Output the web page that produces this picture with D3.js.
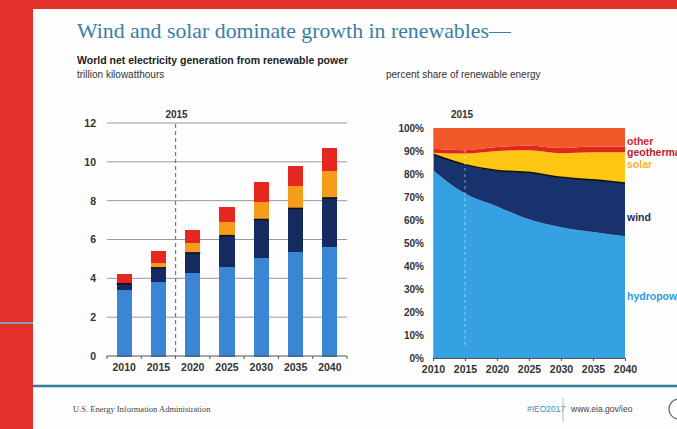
<!DOCTYPE html>
<html>
<head>
<meta charset="utf-8">
<script src="https://cdn.jsdelivr.net/npm/d3@7"></script>
<style>
	body { margin: 0; background: #e3302a; }
	svg { display: block; }
	.tick text { font-family: "Liberation Sans", Arial, sans-serif; }
</style>
</head>
<body>
<svg width="677" height="429"></svg>
<script>
// trillion kilowatthours
const years = [2010, 2015, 2020, 2025, 2030, 2035, 2040];
const hydro = [3.43, 3.86, 4.29, 4.63, 5.09, 5.37, 5.66];
const wind = [0.29, 0.68, 1.02, 1.57, 1.94, 2.23, 2.48];
const solar = [0.03, 0.26, 0.55, 0.74, 0.94, 1.18, 1.43];
const geothermal = [0.07, 0.08, 0.11, 0.15, 0.20, 0.24, 0.27];
const other = [0.38, 0.52, 0.54, 0.59, 0.78, 0.79, 0.86];

const leftTicks = [0, 2, 4, 6, 8, 10, 12];
const rightTicks = [0, 0.1, 0.2, 0.3, 0.4, 0.5, 0.6, 0.7, 0.8, 0.9, 1];
const keys = ["hydro", "wind", "solar", "geothermal", "other"];
const labels = ["hydropower", "wind", "solar", "geothermal", "other"];

const barColors = {hydro: "#3a86d4", wind: "#152a5e", solar: "#f59c1d", geothermal: "#e5281f", other: "#e5281f"};
const areaColors = {hydro: "#35a0e2", wind: "#17326c", solar: "#fcc613", geothermal: "#e2261c", other: "#f1592a"};
const labelColors = {hydro: "#2c9ddf", wind: "#1c2c58", solar: "#f2b51c", geothermal: "#b7232b", other: "#d3262d"};

const rows = years.map((y, i) => ({
	year: y, hydro: hydro[i], wind: wind[i], solar: solar[i],
	geothermal: geothermal[i], other: other[i]
}));

const svg = d3.select("svg");
const sans = '"Liberation Sans", Arial, sans-serif';

// slide background
svg.append("rect").attr("x", 33).attr("y", 9).attr("width", 644).attr("height", 420).attr("fill", "#fdfdfd");
svg.append("line").attr("x1", 0).attr("x2", 33).attr("y1", 323).attr("y2", 323)
	.attr("stroke", "#8b9dbf").attr("stroke-width", 2);

svg.append("text").attr("x", 77).attr("y", 38)
	.attr("font-family", '"Liberation Serif", "Times New Roman", serif').attr("font-size", 21.8)
	.attr("fill", "#3a7fa8").text("Wind and solar dominate growth in renewables\u2014");
svg.append("text").attr("x", 77).attr("y", 64).attr("font-family", sans).attr("font-size", 10.5)
	.attr("font-weight", "bold").attr("fill", "#222").text("World net electricity generation from renewable power");
svg.append("text").attr("x", 77).attr("y", 78).attr("font-family", sans).attr("font-size", 10)
	.attr("fill", "#333").text("trillion kilowatthours");
svg.append("text").attr("x", 386).attr("y", 78).attr("font-family", sans).attr("font-size", 10)
	.attr("fill", "#333").text("percent share of renewable energy");

// ---- left: stacked bars
const x = d3.scaleBand().domain(years).range([107, 347]).paddingInner(0.56).paddingOuter(0.28);
const y = d3.scaleLinear().domain([0, 12]).range([356, 123]);
const stack = d3.stack().keys(keys)(rows);

const left = svg.append("g");
left.selectAll("line.grid").data(leftTicks.filter(t => t > 0)).join("line")
	.attr("x1", 107).attr("x2", 347).attr("y1", d => y(d)).attr("y2", d => y(d))
	.attr("stroke", "#9a9a9a").attr("stroke-width", 1);

left.append("g").attr("transform", "translate(100,0)")
	.call(d3.axisLeft(y).tickValues(leftTicks).tickSize(0).tickPadding(4))
	.call(g => g.select(".domain").remove())
	.call(g => g.selectAll("text").attr("font-size", 10.5).attr("font-weight", "bold").attr("fill", "#333"));

left.selectAll("g.layer").data(stack).join("g").attr("class", "layer")
	.attr("fill", d => barColors[d.key])
	.attr("shape-rendering", "crispEdges")
	.selectAll("rect").data(d => d).join("rect")
	.attr("x", d => x(d.data.year)).attr("width", x.bandwidth())
	.attr("y", d => y(d[1])).attr("height", d => y(d[0]) - y(d[1]) + 0.5);

// thin dark edge above wind
left.selectAll("line.edge").data(stack[1]).join("line")
	.attr("x1", d => x(d.data.year)).attr("x2", d => x(d.data.year) + x.bandwidth())
	.attr("y1", d => y(d[1])).attr("y2", d => y(d[1]))
	.attr("stroke", "#111").attr("stroke-width", 1.5);

const step = x.step();
const bounds = years.map(v => x(v) - (step - x.bandwidth()) / 2).concat([347]);
left.append("line").attr("x1", 107).attr("x2", 347).attr("y1", y(0)).attr("y2", y(0))
	.attr("stroke", "#555").attr("stroke-width", 1.2);
left.selectAll("line.tk").data(bounds).join("line")
	.attr("x1", d => d).attr("x2", d => d).attr("y1", y(0)).attr("y2", y(0) + 3)
	.attr("stroke", "#555");

left.append("g").attr("transform", `translate(0,${y(0)})`)
	.call(d3.axisBottom(x).tickSize(0).tickPadding(8))
	.call(g => g.select(".domain").remove())
	.call(g => g.selectAll("text").attr("font-size", 10.5).attr("font-weight", "bold").attr("fill", "#333"));

const split = x(2020) - (step - x.bandwidth()) / 2;
left.append("line").attr("x1", split).attr("x2", split).attr("y1", 124).attr("y2", y(0))
	.attr("stroke", "#777").attr("stroke-width", 1.2).attr("stroke-dasharray", "4,3");
left.append("text").attr("x", split + 1).attr("y", 118).attr("text-anchor", "middle")
	.attr("font-family", sans).attr("font-size", 10).attr("font-weight", "bold").attr("fill", "#333").text("2015");

// ---- right: percent share areas
const x2 = d3.scaleLinear().domain([2010, 2040]).range([433, 625]);
const y2 = d3.scaleLinear().domain([0, 1]).range([358, 128]);
const shares = d3.stack().keys(keys).offset(d3.stackOffsetExpand)(rows);
const area = d3.area().curve(d3.curveMonotoneX)
	.x(d => x2(d.data.year)).y0(d => y2(d[0])).y1(d => y2(d[1]));

const right = svg.append("g");
right.selectAll("path.area").data(shares).join("path")
	.attr("fill", d => areaColors[d.key]).attr("d", area);
right.append("path").datum(shares[1])
	.attr("fill", "none").attr("stroke", "#111").attr("stroke-width", 1.5)
	.attr("d", d3.line().curve(d3.curveMonotoneX).x(d => x2(d.data.year)).y(d => y2(d[1])));

right.append("line").attr("x1", x2(2015)).attr("x2", x2(2015)).attr("y1", 150).attr("y2", 345)
	.attr("stroke", "#fff").attr("stroke-opacity", 0.5).attr("stroke-dasharray", "3,3");
right.append("text").attr("x", x2(2015) - 3).attr("y", 118).attr("text-anchor", "middle")
	.attr("font-family", sans).attr("font-size", 10).attr("font-weight", "bold").attr("fill", "#333").text("2015");

right.append("g").attr("transform", `translate(${x2(2010)},0)`)
	.call(d3.axisLeft(y2).tickValues(rightTicks).tickFormat(d3.format(".0%")).tickSize(0).tickPadding(9))
	.call(g => g.select(".domain").attr("stroke", "#9ab"))
	.call(g => g.selectAll("text").attr("font-size", 10).attr("font-weight", "bold").attr("fill", "#333"));

right.append("g").attr("transform", `translate(0,${y2(0)})`)
	.call(d3.axisBottom(x2).tickValues(years).tickFormat(d3.format("d")).tickSize(3).tickPadding(5))
	.call(g => g.select(".domain").attr("stroke", "#555"))
	.call(g => g.selectAll("line").attr("stroke", "#555"))
	.call(g => g.selectAll("text").attr("font-size", 10.5).attr("font-weight", "bold").attr("fill", "#333"));

// series labels at right edge, cut by the slide edge as in the original
const labelY = {other: 141, geothermal: 152, solar: 164, wind: 217, hydro: 296};
right.selectAll("text.lab").data(keys).join("text")
	.attr("x", 627).attr("y", d => labelY[d]).attr("dy", "0.35em")
	.attr("font-family", sans).attr("font-size", 10.5).attr("font-weight", "bold")
	.attr("fill", d => labelColors[d]).text((d, i) => labels[i]);

// footer
svg.append("line").attr("x1", 33).attr("x2", 677).attr("y1", 386).attr("y2", 386)
	.attr("stroke", "#357a96").attr("stroke-width", 2.5);
svg.append("text").attr("x", 73).attr("y", 412)
	.attr("font-family", '"Liberation Serif", serif').attr("font-size", 8.5).attr("fill", "#444")
	.text("U.S. Energy Information Administration");
svg.append("text").attr("x", 527).attr("y", 412).attr("font-family", sans).attr("font-size", 8.5)
	.attr("fill", "#3b8dc5").text("#IEO2017");
svg.append("line").attr("x1", 563).attr("x2", 563).attr("y1", 398).attr("y2", 422)
	.attr("stroke", "#bbb");
svg.append("text").attr("x", 571).attr("y", 412).attr("font-family", sans).attr("font-size", 8.5)
	.attr("fill", "#444").text("www.eia.gov/ieo");
svg.append("circle").attr("cx", 679).attr("cy", 409).attr("r", 10)
	.attr("fill", "none").attr("stroke", "#666").attr("stroke-width", 1.2);
</script>
</body>
</html>
